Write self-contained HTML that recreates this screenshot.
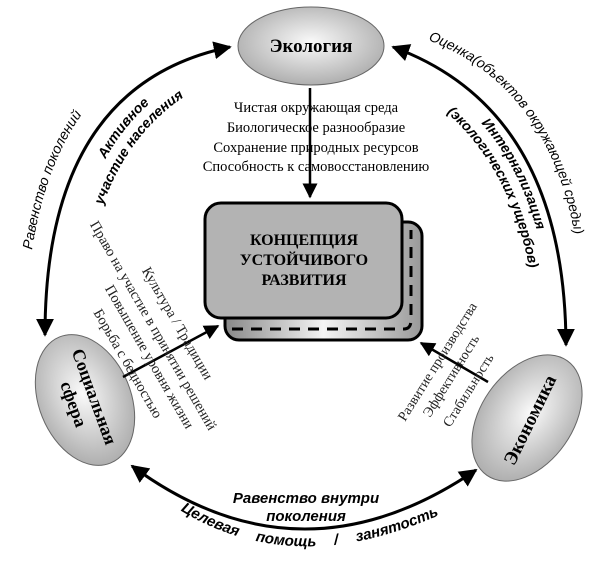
<!DOCTYPE html>
<html><head><meta charset="utf-8"><style>
html,body{margin:0;padding:0;background:#fff;}
svg{display:block}
.s{font-family:"Liberation Serif",serif;}
.a{font-family:"Liberation Sans",sans-serif;font-style:italic;}
</style></head><body>
<svg width="600" height="561" viewBox="0 0 600 561" xmlns="http://www.w3.org/2000/svg">
<defs>
<radialGradient id="g" cx="50%" cy="45%" r="60%"><stop offset="0" stop-color="#fafafa"/><stop offset="1" stop-color="#a8a8a8"/></radialGradient>
<linearGradient id="bg" x1="0" y1="0" x2="1" y2="0"><stop offset="0" stop-color="#888"/><stop offset="0.5" stop-color="#f4f4f4"/><stop offset="1" stop-color="#999"/></linearGradient>
<marker id="ah" viewBox="0 0 10 10" refX="9" refY="5" markerWidth="6" markerHeight="6" orient="auto-start-reverse"><path d="M0,0 L10,5 L0,10 z" fill="#000"/></marker>
<path id="p1" d="M32,250 Q55,105 145,60"/>
<path id="p3" d="M67,343 Q67,93 252,55"/>
<path id="p2" d="M81,352 Q81,102 266,64"/>
<path id="p4" d="M428,40 Q585,100 583,340"/>
<path id="p6" d="M379,55 Q551,118 552,353"/>
<path id="p5" d="M365,65 Q537,128 538,363"/>
<path id="p7" d="M172,505 Q300,590 470,500"/>
</defs>

<path d="M230,47 Q45,85 45,335" fill="none" stroke="#000" stroke-width="3" marker-start="url(#ah)" marker-end="url(#ah)"/>
<path d="M393,47 Q565,110 566,345" fill="none" stroke="#000" stroke-width="3" marker-start="url(#ah)" marker-end="url(#ah)"/>
<path d="M132,466 Q300,590 476,470" fill="none" stroke="#000" stroke-width="3" marker-start="url(#ah)" marker-end="url(#ah)"/>

<rect x="225" y="222" width="197" height="118" rx="14" fill="url(#bg)" stroke="#000" stroke-width="3"/>
<path d="M232,329 L404,329 Q411,329 411,320 L411,230" fill="none" stroke="#000" stroke-width="3" stroke-dasharray="11,8"/>
<rect x="205" y="203" width="197" height="115" rx="16" fill="#b3b3b3" stroke="#000" stroke-width="3"/>
<text class="s" font-weight="bold" font-size="16" text-anchor="middle"><tspan x="304" y="245">КОНЦЕПЦИЯ</tspan><tspan x="304" y="265">УСТОЙЧИВОГО</tspan><tspan x="304" y="285">РАЗВИТИЯ</tspan></text>

<ellipse cx="311" cy="46" rx="73" ry="39" fill="url(#g)" stroke="#666"/>
<text class="s" x="311" y="52" font-weight="bold" font-size="19" text-anchor="middle">Экология</text>
<ellipse cx="85" cy="400" rx="46" ry="68" transform="rotate(-22 85 400)" fill="url(#g)" stroke="#666"/>
<text class="s" font-weight="bold" font-size="18" text-anchor="middle" transform="translate(85,400) rotate(70)"><tspan x="0" y="-4">Социальная</tspan><tspan x="0" y="18">сфера</tspan></text>
<ellipse cx="527" cy="418" rx="46" ry="70" transform="rotate(35 527 418)" fill="url(#g)" stroke="#666"/>
<text class="s" font-weight="bold" font-size="19" text-anchor="middle" transform="translate(530,420) rotate(-64)" x="0" y="6">Экономика</text>

<line x1="310" y1="88" x2="310" y2="197" stroke="#000" stroke-width="2.5" marker-end="url(#ah)"/>
<text class="s" font-size="14.5" text-anchor="middle"><tspan x="316" y="112">Чистая окружающая среда</tspan><tspan x="316" y="132">Биологическое   разнообразие</tspan><tspan x="316" y="152">Сохранение природных ресурсов</tspan><tspan x="316" y="171">Способность к самовосстановлению</tspan></text>

<line x1="123" y1="377" x2="218" y2="326" stroke="#000" stroke-width="2.5" marker-end="url(#ah)"/>
<g class="s" font-size="14.5" fill="#222" transform="translate(146,268) rotate(60)">
<text x="0" y="5">Культура / Традиции</text>
<text x="-66" y="27">Право на участие в принятии решений</text>
<text x="-3" y="46">Повышение уровня жизни</text>
<text x="12" y="68">Борьба с бедностью</text>
</g>

<line x1="488" y1="382" x2="421" y2="343" stroke="#000" stroke-width="2.5" marker-end="url(#ah)"/>
<g class="s" font-size="14" fill="#222">
<text transform="translate(405,422) rotate(-58)">Развитие    производства</text>
<text transform="translate(430,418) rotate(-58)">Эффективность</text>
<text transform="translate(450,428) rotate(-58)">Стабильность</text>
</g>

<text class="a" font-size="14"><textPath href="#p1">Равенство поколений</textPath></text>
<text class="a" font-size="14" font-weight="bold" text-anchor="middle"><textPath href="#p3" startOffset="60%">Активное</textPath></text>
<text class="a" font-size="14" font-weight="bold" text-anchor="middle"><textPath href="#p2" startOffset="58%">участие населения</textPath></text>
<text class="a" font-size="14"><textPath href="#p4">Оценка(объектов окружающей среды)</textPath></text>
<text class="a" font-size="14" font-weight="bold" text-anchor="middle"><textPath href="#p6" startOffset="50%">Интернализация</textPath></text>
<text class="a" font-size="14" font-weight="bold" text-anchor="middle"><textPath href="#p5" startOffset="50%">(экологических ущербов)</textPath></text>
<text class="a" font-size="15" font-weight="bold" text-anchor="middle"><tspan x="306" y="503">Равенство внутри</tspan><tspan x="306" y="521">поколения</tspan></text>
<text class="a" font-size="15" font-weight="bold" word-spacing="14"><textPath href="#p7" startOffset="10">Целевая помощь / занятость</textPath></text>
</svg>
</body></html>
